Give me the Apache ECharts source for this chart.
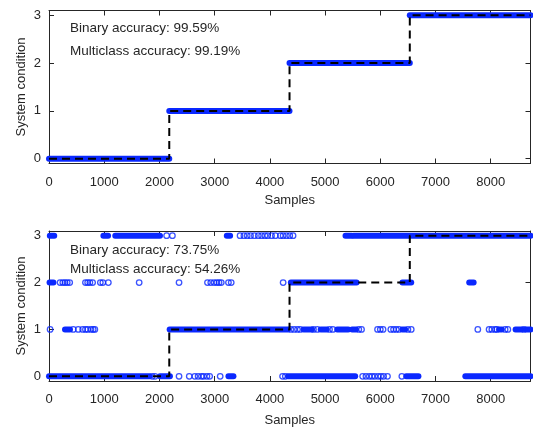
<!DOCTYPE html>
<html lang="en">
<head>
    <meta charset="UTF-8">
    <title>System condition</title>
    <script src="https://cdn.jsdelivr.net/npm/echarts@6/dist/echarts.min.js"></script>
    <style>
        body { margin: 0; background: #fff; }
        #main { width: 533px; height: 428px; }
    </style>
</head>
<body>
<div id="main"></div>

<script type="text/javascript">
    // tick labels
    var xTicks = [0, 1000, 2000, 3000, 4000, 5000, 6000, 7000, 8000];
    var yTicks = [0, 1, 2, 3];

    // true condition: level changes at these sample indices
    var truthEdges = [0, 2178, 4356, 6534, 8720];
    var truthLevels = [0, 1, 2, 3];

    // top panel predictions: dense runs [start, end, level]
    var topRuns = [[0, 2178, 0], [2178, 4356, 1], [4356, 6534, 2], [6534, 8720, 3]];
    var topText = ['Binary accuracy: 99.59%', 'Multiclass accuracy: 99.19%'];

    // bottom panel predictions: dense runs [start, end, level] and single points [x, level]
    var bottomRuns = [
        [15, 95, 3], [985, 1070, 3], [1200, 2010, 3], [3220, 3280, 3], [5370, 5480, 3], [5515, 8720, 3],
        [10, 80, 2], [4380, 5570, 2], [6400, 6560, 2], [7610, 7690, 2],
        [290, 380, 1], [2185, 4330, 1], [4610, 4760, 1], [4920, 5030, 1], [5220, 5420, 1], [5490, 5560, 1],
        [6400, 6450, 1], [8150, 8200, 1], [8450, 8560, 1], [8640, 8720, 1],
        [0, 1820, 0], [2010, 2190, 0], [3250, 3340, 0], [4330, 5545, 0], [6470, 6690, 0], [7540, 8720, 0]
    ];
    var bottomDots3 = [2130, 2235, 3460, 3530, 3590, 3650, 3720, 3790, 3850, 3910, 3960, 4030, 4100, 4190, 4240, 4300, 4360, 4420];
    var bottomDots2 = [200, 250, 290, 330, 375, 660, 700, 740, 790, 930, 975, 1075, 1633, 2355, 2870, 2930, 2990, 3040, 3080, 3120, 3250, 3300, 4240];
    var bottomDots1 = [20, 440, 530, 610, 660, 700, 760, 800, 830, 4380, 4440, 4500, 4550, 4790, 4860, 5080, 5140, 5610, 5660, 5950, 6000, 6050,
        6190, 6240, 6290, 6340, 6500, 6560, 7766, 7970, 8020, 8080, 8110, 8260, 8310, 8600];
    var bottomDots0 = [1870, 1920, 2355, 2540, 2640, 2700, 2760, 2800, 2860, 2910, 3100, 4230, 4280, 5680, 5740, 5800, 5850, 5900, 5960, 6010, 6060, 6130, 6390];
    var bottomText = ['Binary accuracy: 73.75%', 'Multiclass accuracy: 54.26%'];

    var BLUE = '#0a28ff';
    var INK = '#262626';
    var FONT = 'Liberation Sans, Arial, Helvetica, sans-serif';

    // step line of the true condition
    function truthLine() {
        var pts = [];
        for (var i = 0; i < truthLevels.length; i++) {
            pts.push([truthEdges[i], truthLevels[i]]);
            pts.push([truthEdges[i + 1], truthLevels[i]]);
        }
        return pts;
    }

    function dotsOf(list, level) {
        return list.map(function (x) { return [x, level]; });
    }

    function plain(v) {
        return String(v);
    }

    function xAxes(gridIndex) {
        var base = {
            type: 'value', gridIndex: gridIndex, min: 0, max: 8720,
            axisLine: {show: true, onZero: false, lineStyle: {color: INK, width: 1}},
            axisTick: {show: true, inside: true, length: 5, customValues: xTicks, lineStyle: {color: INK}},
            splitLine: {show: false}
        };
        var bottom = Object.assign({}, base, {
            position: 'bottom',
            axisLabel: {customValues: xTicks, formatter: plain, margin: 12, fontSize: 13, color: INK, fontFamily: FONT},
            name: 'Samples', nameLocation: 'middle', nameGap: gridIndex === 0 ? 30 : 33,
            nameTextStyle: {fontSize: 13, color: INK, fontFamily: FONT}
        });
        var top = Object.assign({}, base, {position: 'top', axisLabel: {show: false}});
        return [bottom, top];
    }

    function yAxes(gridIndex) {
        var base = {
            type: 'value', gridIndex: gridIndex, min: -0.1, max: 3.1,
            axisLine: {show: true, onZero: false, lineStyle: {color: INK, width: 1}},
            axisTick: {show: true, inside: true, length: 5, customValues: yTicks, lineStyle: {color: INK}},
            splitLine: {show: false}
        };
        var left = Object.assign({}, base, {
            position: 'left',
            axisLabel: {customValues: yTicks, formatter: plain, margin: 8, fontSize: 13, color: INK, fontFamily: FONT},
            name: 'System condition', nameLocation: 'middle', nameGap: 21, nameMoveOverlap: false,
            nameTextStyle: {fontSize: 13, color: INK, fontFamily: FONT}
        });
        var right = Object.assign({}, base, {position: 'right', axisLabel: {show: false}});
        return [left, right];
    }

    function runSeries(data, axisIdx) {
        return {
            type: 'custom', xAxisIndex: axisIdx, yAxisIndex: axisIdx, data: data, z: 2, clip: false,
            encode: {x: [0, 1], y: 2},
            renderItem: function (params, api) {
                var a = api.coord([api.value(0), api.value(2)]);
                var b = api.coord([api.value(1), api.value(2)]);
                return {
                    type: 'line',
                    shape: {x1: a[0], y1: a[1], x2: b[0], y2: b[1]},
                    style: {stroke: BLUE, lineWidth: 6, lineCap: 'round'}
                };
            }
        };
    }

    function dotSeries(data, axisIdx) {
        return {
            type: 'scatter', xAxisIndex: axisIdx, yAxisIndex: axisIdx, data: data, z: 3,
            symbol: 'circle', symbolSize: 5.5, silent: true,
            itemStyle: {color: 'rgba(0,0,0,0)', borderColor: BLUE, borderWidth: 1.3}
        };
    }

    function truthSeries(axisIdx) {
        return {
            type: 'line', xAxisIndex: axisIdx, yAxisIndex: axisIdx, data: truthLine(), z: 5,
            showSymbol: false, silent: true,
            lineStyle: {color: '#000', width: 2, type: [8, 5]}
        };
    }

    var bottomDots = dotsOf(bottomDots3, 3).concat(dotsOf(bottomDots2, 2), dotsOf(bottomDots1, 1), dotsOf(bottomDots0, 0));

    var textStyle = {fontSize: 13.5, fill: INK, fontFamily: FONT};

    var option = {
        animation: false,
        grid: [
            {left: 49, right: 2.5, top: 10.5, height: 153},
            {left: 49, right: 2.5, top: 231, height: 152}
        ],
        xAxis: xAxes(0).concat(xAxes(1)),
        yAxis: yAxes(0).concat(yAxes(1)),
        graphic: [
            {type: 'text', left: 70, top: 21, style: Object.assign({text: topText[0]}, textStyle)},
            {type: 'text', left: 70, top: 44, style: Object.assign({text: topText[1]}, textStyle)},
            {type: 'text', left: 70, top: 243, style: Object.assign({text: bottomText[0]}, textStyle)},
            {type: 'text', left: 70, top: 262, style: Object.assign({text: bottomText[1]}, textStyle)}
        ],
        series: [
            runSeries(topRuns, 0),
            truthSeries(0),
            runSeries(bottomRuns, 2),
            dotSeries(bottomDots, 2),
            truthSeries(2)
        ]
    };

    var myChart = echarts.init(document.getElementById('main'));
    myChart.setOption(option);
</script>

</body>
</html>
